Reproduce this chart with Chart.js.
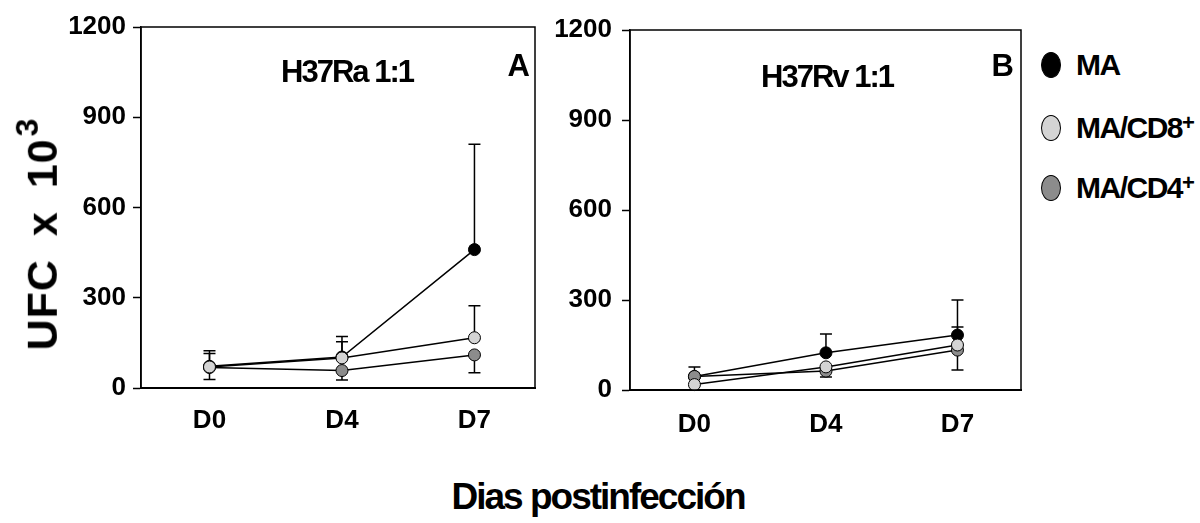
<!DOCTYPE html>
<html>
<head>
<meta charset="utf-8">
<script src="https://cdn.jsdelivr.net/npm/chart.js@4.4.1/dist/chart.umd.min.js"></script>
<style>
  body { margin: 0; background: #fff; width: 1200px; height: 523px; overflow: hidden; position: relative; font-family: "Liberation Sans", Arial, sans-serif; font-weight: bold; color: #000; }
  canvas { position: absolute; }
  #chartA { left: 50px; top: 0; }
  #chartB { left: 540px; top: 0; }
  #ytitle { position: absolute; left: 40px; top: 234px; transform: translate(-50%, -50%) rotate(-90deg); font-size: 43px; letter-spacing: 1px; word-spacing: 10px; white-space: nowrap; }
  #ytitle sup { font-size: 32px; position: relative; top: -4px; margin-left: 2px; }
  #xtitle { position: absolute; left: 598px; top: 497px; transform: translate(-50%, -50%); font-size: 37px; letter-spacing: -2px; white-space: nowrap; }
  .leg { position: absolute; left: 1041px; height: 30px; display: flex; align-items: center; font-size: 30px; letter-spacing: -1.5px; white-space: nowrap; }
  .leg i { display: block; flex: none; width: 20px; height: 26px; border-radius: 50%; border: 1px solid #000; box-sizing: border-box; margin-right: 15px; }
  .leg sup { font-size: 22px; position: relative; top: -5px; }
</style>
</head>
<body>
<canvas id="chartA" width="492" height="440"></canvas>
<canvas id="chartB" width="488" height="440"></canvas>
<div id="ytitle">UFC x 10<sup>3</sup></div>
<div id="xtitle">Dias postinfección</div>
<div class="leg" style="top:50px"><i style="background:#000"></i>MA</div>
<div class="leg" style="top:113px"><i style="background:#d4d4d4"></i>MA/CD8<sup>+</sup></div>
<div class="leg" style="top:173px"><i style="background:#8c8c8c"></i>MA/CD4<sup>+</sup></div>
<script>
// x categories
var dayLabels = ["D0", "D4", "D7"];
var yTicks = [0, 300, 600, 900, 1200];

// panel A: H37Ra 1:1
var raMA = [72, 103, 460];
var raMAUp = [52, 68, 350];
var raCD8 = [70, 100, 167];
var raCD8Up = [45, 54, 106];
var raCD4 = [68, 58, 110];
var raCD4Down = [40, 31, 59];

// panel B: H37Rv 1:1
var rvMA = [45, 124, 183];
var rvMAUp = [32, 63, 117];
var rvCD8 = [18, 77, 150];
var rvCD8Up = [0, 0, 60];
var rvCD4 = [45, 63, 133];
var rvCD4Down = [0, 20, 66];

var FONT = "'Liberation Sans', Arial, sans-serif";

function toPoints(arr) {
  return arr.map(function (v, i) { return { x: i, y: v }; });
}

function series(values, fill, up, down) {
  return {
    data: toPoints(values),
    borderColor: "#000",
    borderWidth: 1.5,
    backgroundColor: fill,
    pointBackgroundColor: fill,
    pointBorderColor: "#000",
    pointBorderWidth: 1,
    pointRadius: 6,
    pointHoverRadius: 6,
    showLine: true,
    errUp: up,
    errDown: down
  };
}

// error bars + frame + panel labels
var panelPlugin = {
  id: "panel",
  beforeDatasetsDraw: function (chart) {
    var ctx = chart.ctx;
    var xs = chart.scales.x, ys = chart.scales.y;
    ctx.save();
    ctx.strokeStyle = "#000";
    ctx.lineWidth = 1.5;
    chart.data.datasets.forEach(function (ds) {
      ds.data.forEach(function (p, i) {
        var x = xs.getPixelForValue(p.x);
        var y0 = ys.getPixelForValue(p.y);
        [ds.errUp, ds.errDown].forEach(function (err, k) {
          if (!err || !err[i]) return;
          var y1 = ys.getPixelForValue(k == 0 ? p.y + err[i] : p.y - err[i]);
          ctx.beginPath();
          ctx.moveTo(x, y0);
          ctx.lineTo(x, y1);
          ctx.moveTo(x - 6, y1);
          ctx.lineTo(x + 6, y1);
          ctx.stroke();
        });
      });
    });
    ctx.restore();
  },
  afterDraw: function (chart, args, opts) {
    var ctx = chart.ctx, a = chart.chartArea;
    ctx.save();
    ctx.strokeStyle = "#000";
    ctx.lineWidth = 1.5;
    ctx.strokeRect(a.left, a.top, a.right - a.left, a.bottom - a.top);
    ctx.fillStyle = "#000";
    ctx.textBaseline = "middle";
    ctx.font = "bold 31px " + FONT;
    if ("letterSpacing" in ctx) ctx.letterSpacing = "-2px";
    ctx.textAlign = "center";
    ctx.fillText(opts.title, a.left + opts.titleX, a.top + opts.titleY);
    ctx.font = "bold 31px " + FONT;
    if ("letterSpacing" in ctx) ctx.letterSpacing = "0px";
    ctx.textAlign = "right";
    ctx.fillText(opts.letter, a.right - opts.letterDx, 67);
    ctx.restore();
  }
};

function makeChart(id, datasets, cfg) {
  return new Chart(document.getElementById(id), {
    type: "scatter",
    data: { datasets: datasets },
    plugins: [panelPlugin],
    options: {
      responsive: false,
      animation: false,
      clip: false,
      layout: { padding: { top: cfg.top, right: 4, left: 0, bottom: 0 } },
      plugins: {
        legend: { display: false },
        tooltip: { enabled: false },
        panel: { title: cfg.title, titleX: cfg.titleX, titleY: cfg.titleY, letter: cfg.letter, letterDx: cfg.letterDx }
      },
      scales: {
        x: {
          type: "linear",
          min: cfg.xmin,
          max: cfg.xmax,
          afterBuildTicks: function (s) { s.ticks = dayLabels.map(function (l, i) { return { value: i }; }); },
          afterFit: function (s) { s.height = cfg.xh; },
          grid: { display: true, drawOnChartArea: false, drawTicks: false },
          border: { display: true, color: "#000", width: 2 },
          ticks: {
            color: "#000",
            padding: cfg.xpad,
            maxRotation: 0,
            font: { family: FONT, size: 26, weight: "bold" },
            callback: function (v) { return dayLabels[v]; }
          }
        },
        y: {
          min: 0,
          max: 1200,
          afterBuildTicks: function (s) { s.ticks = yTicks.map(function (v) { return { value: v }; }); },
          afterFit: function (s) { s.width = cfg.yw; },
          grid: { display: true, drawOnChartArea: false, drawTicks: true, tickLength: 8, color: "#000", tickColor: "#000", tickWidth: 1.5 },
          border: { display: true, color: "#000", width: 1.5 },
          ticks: {
            color: "#000",
            padding: cfg.ypad,
            font: { family: FONT, size: 26, weight: "bold" },
            callback: function (v) { return String(v); }
          }
        }
      }
    }
  });
}

makeChart("chartA", [
  series(raCD8, "#d4d4d4", raCD8Up, null),
  series(raCD4, "#8c8c8c", null, raCD4Down),
  series(raMA, "#000000", raMAUp, null)
], { top: 27, xh: 52, yw: 91, xmin: -0.517, xmax: 2.457, xpad: 17, ypad: 7,
     title: "H37Ra 1:1", titleX: 206, titleY: 46, letter: "A", letterDx: 5 });

makeChart("chartB", [
  series(rvCD8, "#d4d4d4", rvCD8Up, null),
  series(rvCD4, "#8c8c8c", null, rvCD4Down),
  series(rvMA, "#000000", rvMAUp, null)
], { top: 30, xh: 50, yw: 90, xmin: -0.49, xmax: 2.483, xpad: 19, ypad: 10,
     title: "H37Rv 1:1", titleX: 197, titleY: 48, letter: "B", letterDx: 7 });
</script>
</body>
</html>
